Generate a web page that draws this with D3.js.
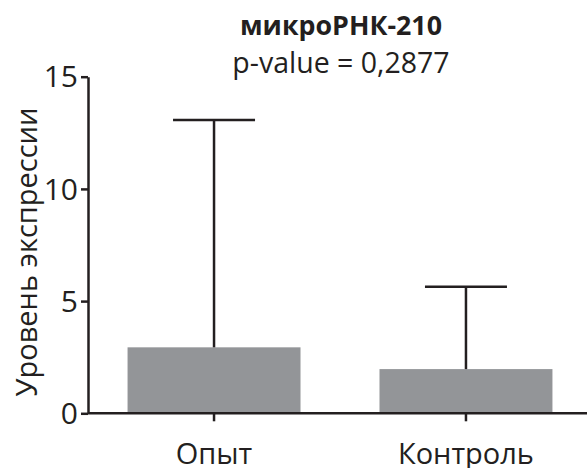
<!DOCTYPE html>
<html>
<head>
<meta charset="utf-8">
<script src="https://cdn.jsdelivr.net/npm/d3@7"></script>
<style>
  html, body { margin: 0; padding: 0; background: #fff; }
  svg { display: block; }
  text { font-family: "Open Sans", "Noto Sans", sans-serif; fill: #231f20; }
</style>
</head>
<body>
<svg id="chart" width="587" height="468"></svg>
<script>
const categories = ["Опыт", "Контроль"];
const means = [2.94, 1.97];
const errorTops = [13.07, 5.64];
const yTicks = [0, 5, 10, 15];
const title = "микроРНК-210";
const subtitle = "p-value = 0,2877";
const yLabel = "Уровень экспрессии";

const svg = d3.select("#chart");
const ink = "#231f20";
const barColor = "#939598";

const y = d3.scaleLinear().domain([0, 15]).range([413.3, 76.7]);
const x = d3.scaleBand().domain(categories).range([88, 592]).paddingInner(0.3135).paddingOuter(0.157);

// bars
svg.append("g").selectAll("rect").data(categories).join("rect")
  .attr("x", d => x(d))
  .attr("width", x.bandwidth())
  .attr("y", (d, i) => y(means[i]))
  .attr("height", (d, i) => y(0) - y(means[i]))
  .attr("fill", barColor);

// error bars
const capHalf = 41;
const eg = svg.append("g").attr("stroke", ink).attr("stroke-width", 2.5).attr("fill", "none");
categories.forEach((c, i) => {
  const cx = x(c) + x.bandwidth() / 2;
  eg.append("line").attr("x1", cx).attr("x2", cx).attr("y1", y(means[i])).attr("y2", y(errorTops[i]));
  eg.append("line").attr("x1", cx - capHalf).attr("x2", cx + capHalf).attr("y1", y(errorTops[i])).attr("y2", y(errorTops[i]));
});

// y axis
const yAxis = d3.axisLeft(y).tickValues(yTicks).tickSize(7).tickPadding(3).tickSizeOuter(0);
const gy = svg.append("g").attr("transform", "translate(88,0)").call(yAxis);
gy.select(".domain").attr("stroke", ink).attr("stroke-width", 2.5);
gy.selectAll(".tick line").attr("stroke", ink).attr("stroke-width", 2.5);
gy.selectAll(".tick text").attr("font-size", 30).attr("font-family", "Open Sans").attr("fill", ink).attr("dy", "0.34em");

// x axis
const xAxis = d3.axisBottom(x).tickSize(8).tickPadding(22).tickSizeOuter(0);
const gx = svg.append("g").attr("transform", `translate(0,${y(0)})`).call(xAxis);
gx.select(".domain").attr("stroke", ink).attr("stroke-width", 2.5).attr("d", `M88,0H587`);
gx.selectAll(".tick line").attr("stroke", ink).attr("stroke-width", 2.5);
gx.selectAll(".tick text").attr("font-size", 29).attr("font-family", "Open Sans").attr("fill", ink);

// titles
svg.append("text").attr("x", 341).attr("y", 35).attr("text-anchor", "middle")
  .attr("font-size", 26.8).attr("font-weight", "bold").text(title);
svg.append("text").attr("x", 341).attr("y", 73).attr("text-anchor", "middle")
  .attr("font-size", 28.5).text(subtitle);

// y label
svg.append("text").attr("transform", "translate(37,252) rotate(-90)").attr("text-anchor", "middle")
  .attr("font-size", 29).text(yLabel);
</script>
</body>
</html>
